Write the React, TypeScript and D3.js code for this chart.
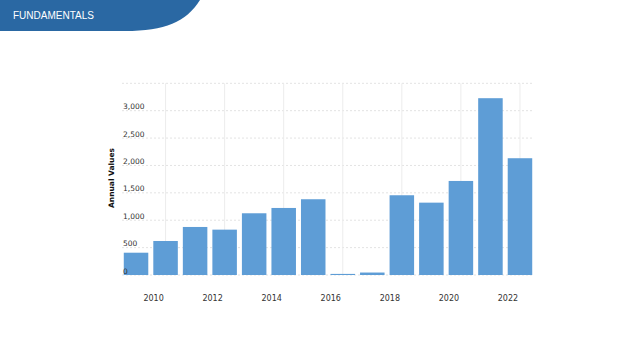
import React from "react";
import * as d3 from "d3";

const years = [2009, 2010, 2011, 2012, 2013, 2014, 2015, 2016, 2017, 2018, 2019, 2020, 2021, 2022];
const values = [407, 621, 877, 828, 1127, 1224, 1383, 20, 45, 1456, 1321, 1717, 3228, 2132];
const yTicks = [0, 500, 1000, 1500, 2000, 2500, 3000];
const yGrid = [0, 500, 1000, 1500, 2000, 2500, 3000, 3500];
const xLabelYears = [2010, 2012, 2014, 2016, 2018, 2020, 2022];
const title = "FUNDAMENTALS";
const yAxisTitle = "Annual Values";

export default function App() {
  const W = 640, H = 360;
  const left = 122, right = 534, top = 83.3, bottom = 275;
  const x = d3.scaleBand<number>().domain(years).range([left, right]).paddingInner(0.17).paddingOuter(0.06);
  const y = d3.scaleLinear().domain([0, 3500]).range([bottom, top]);
  const font = "'DejaVu Sans', Verdana, sans-serif";
  const cx = (yr: number) => (x(yr) as number) + x.bandwidth() / 2;
  return (
    <div style={{ position: "absolute", left: 0, top: 0 }}>
      <svg width={W} height={H} style={{ display: "block", background: "#fff" }}>
        <path d="M0,0 H200 C186,22 165,31 125,31 H0 Z" fill="#2a68a3" />
        <text x={13} y={19} fill="#fff" fontFamily="'Liberation Sans', Arial, sans-serif" fontSize={10}>{title}</text>
        {yGrid.map((v) => (
          <line key={"g" + v} x1={left} x2={right} y1={y(v)} y2={y(v)} stroke="#e3e3e3" strokeWidth={1} strokeDasharray="2,2" />
        ))}
        {xLabelYears.map((yr) => (
          <line key={"v" + yr} x1={cx(yr)} x2={cx(yr)} y1={top} y2={bottom} stroke="#ececec" strokeWidth={1} />
        ))}
        {years.map((yr, i) => (
          <rect key={yr} x={x(yr)} y={y(values[i])} width={x.bandwidth()} height={bottom - y(values[i])} fill="#5e9dd6" />
        ))}
        {yTicks.map((v) => (
          <text key={"t" + v} x={123} y={y(v) - 1.5} fontFamily={font} fontSize={7.5} fill="#333">
            {d3.format(",")(v)}
          </text>
        ))}
        {xLabelYears.map((yr) => (
          <text key={"l" + yr} x={cx(yr) - 12} y={301} textAnchor="middle" fontFamily={font} fontSize={8} fill="#333">
            {yr}
          </text>
        ))}
        <text transform={`translate(114,178) rotate(-90)`} textAnchor="middle" fontFamily={font} fontSize={7.5} fontWeight="bold" fill="#111">
          {yAxisTitle}
        </text>
      </svg>
    </div>
  );
}
